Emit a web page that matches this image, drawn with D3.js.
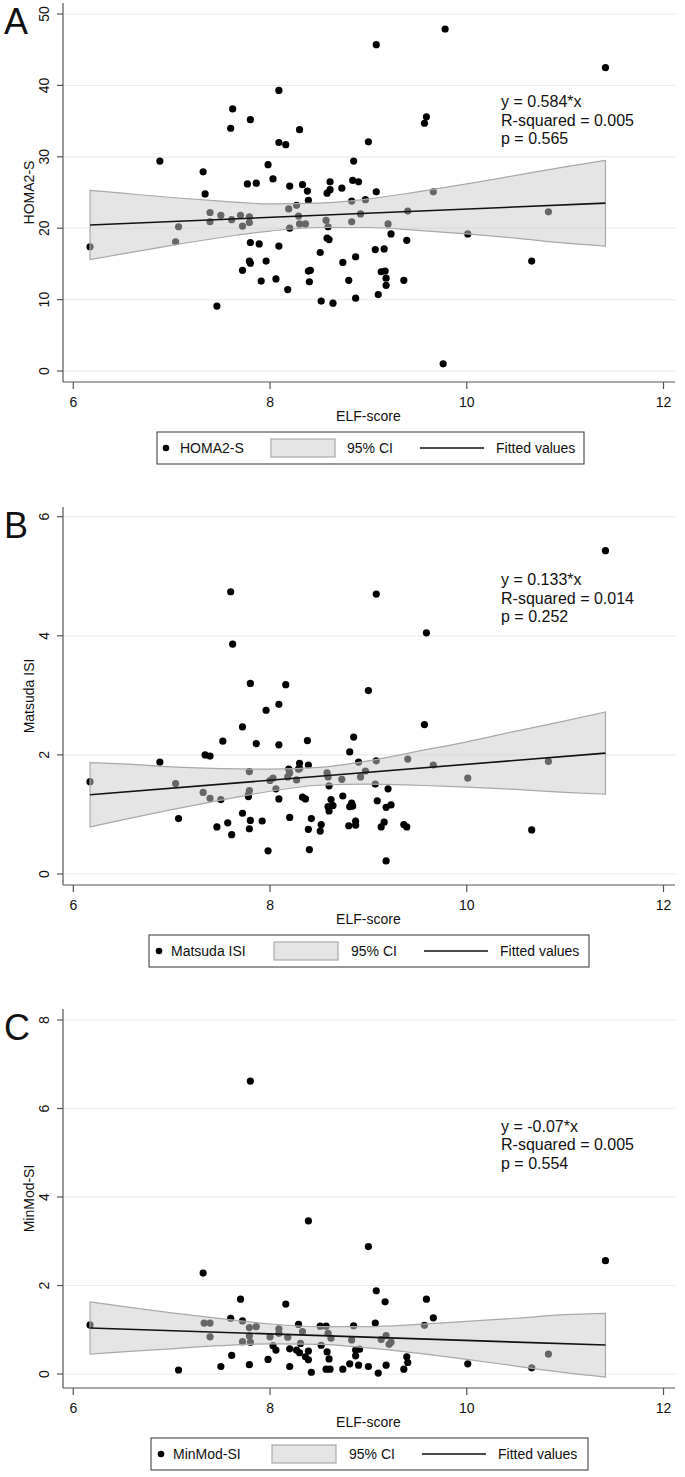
<!DOCTYPE html>
<html><head><meta charset="utf-8">
<script src="https://cdn.jsdelivr.net/npm/d3@7"></script>
<style>body{margin:0;background:#fff}svg{display:block}text{font-family:"Liberation Sans",Arial,sans-serif;fill:#111}</style>
</head><body><svg id="c" width="685" height="1477"></svg>
<script>
// ---------- data ----------
const xTicks = [6, 8, 10, 12];
const xTitle = "ELF-score";

const elfA = [8.09,7.62,7.80,7.60,8.30,8.09,8.16,6.88,7.98,7.32,8.03,7.77,7.86,8.20,8.33,8.38,8.61,8.61,8.58,8.73,7.34,8.39,9.08,9.78,11.41,9.59,9.57,9.00,8.85,8.84,8.90,9.08,9.66,8.83,6.17,7.07,7.04,7.39,7.39,7.50,7.61,7.70,7.72,7.79,7.79,7.80,7.89,8.09,7.79,7.80,7.72,7.96,7.91,8.06,8.18,7.46,8.19,8.27,8.29,8.30,8.36,8.20,8.57,8.59,8.58,8.60,8.51,8.74,8.39,8.41,8.40,8.52,8.64,8.80,8.83,8.97,8.92,9.40,9.20,9.23,9.39,10.01,10.83,10.66,8.87,9.07,9.16,9.13,9.17,9.18,9.18,9.36,8.87,9.10,9.76];
const homa2S = [39.3,36.7,35.2,34.0,33.8,32.0,31.7,29.4,28.9,27.9,26.9,26.2,26.3,25.9,26.1,25.2,26.5,25.4,24.9,25.6,24.8,23.9,45.7,47.9,42.5,35.6,34.7,32.1,29.4,26.7,26.5,25.1,25.1,23.8,17.4,20.2,18.1,22.2,20.9,21.8,21.2,21.8,20.3,21.6,20.8,18.0,17.8,17.5,15.4,15.1,14.1,15.4,12.6,12.9,11.4,9.1,22.7,23.2,21.7,20.6,20.6,20.0,21.1,20.2,18.6,18.4,16.6,15.2,14.0,14.1,12.5,9.8,9.5,12.7,20.9,24.0,22.0,22.4,20.6,19.2,18.3,19.2,22.3,15.4,16.0,17.0,17.1,13.9,14.0,13.0,12.0,12.7,10.2,10.7,1.0];

const elfB = [7.60,7.62,7.80,8.16,11.41,9.08,9.59,9.00,8.09,7.96,7.72,7.52,7.86,8.09,8.38,8.81,7.34,7.39,6.88,6.17,7.04,7.32,7.39,7.50,7.07,7.79,7.79,7.78,7.78,8.00,8.03,8.06,8.09,8.19,8.20,8.18,8.30,8.29,8.30,8.39,8.27,8.33,8.36,7.72,7.57,7.46,7.61,7.80,7.79,7.92,8.20,7.98,8.42,8.39,8.52,8.51,8.40,8.58,8.59,8.60,8.73,8.62,8.74,8.64,8.59,8.60,8.80,8.81,9.57,8.85,8.90,9.08,9.40,9.66,8.97,8.92,9.07,10.01,10.83,9.20,8.83,8.84,9.09,9.23,9.18,8.87,8.87,9.13,9.16,9.36,9.39,9.18,10.66];
const matsudaISI = [4.74,3.86,3.20,3.18,5.43,4.70,4.05,3.08,2.85,2.75,2.47,2.23,2.19,2.17,2.24,2.05,2.00,1.98,1.88,1.55,1.52,1.37,1.27,1.25,0.93,1.72,1.40,1.33,1.30,1.57,1.61,1.43,1.26,1.76,1.70,1.63,1.86,1.76,1.77,1.83,1.58,1.29,1.26,1.02,0.86,0.79,0.66,0.90,0.76,0.89,0.95,0.39,0.93,0.75,0.83,0.72,0.41,1.70,1.63,1.48,1.59,1.25,1.31,1.15,1.13,1.06,0.81,1.13,2.51,2.30,1.88,1.90,1.93,1.83,1.73,1.63,1.51,1.61,1.89,1.43,1.19,1.14,1.23,1.16,1.12,0.82,0.89,0.79,0.87,0.83,0.79,0.22,0.74];

const elfC = [7.80,8.39,9.00,11.41,7.32,7.70,8.16,6.17,7.60,7.72,7.33,7.39,7.39,7.79,7.86,7.79,7.72,7.80,8.00,8.09,8.09,8.18,8.29,8.33,8.31,8.51,8.57,8.59,8.62,8.52,7.61,7.07,7.50,7.79,7.98,8.03,8.06,8.20,8.27,8.30,8.20,8.39,8.36,8.39,8.42,8.58,8.60,8.57,8.61,8.74,8.81,9.08,9.17,9.59,9.66,9.57,8.85,9.07,8.83,9.18,9.13,9.21,9.23,8.87,8.91,8.87,8.90,9.00,9.10,9.18,9.36,9.39,9.40,10.01,10.66,10.83];
const minModSI = [6.62,3.46,2.88,2.56,2.28,1.69,1.58,1.11,1.26,1.20,1.15,1.15,0.84,1.05,1.07,0.86,0.73,0.72,0.84,1.02,0.92,0.83,1.12,0.96,0.69,1.08,1.08,0.92,0.81,0.65,0.42,0.09,0.17,0.21,0.33,0.64,0.54,0.57,0.54,0.48,0.17,0.52,0.39,0.32,0.04,0.50,0.34,0.11,0.11,0.11,0.23,1.88,1.63,1.69,1.27,1.10,1.09,1.15,0.77,0.87,0.78,0.67,0.72,0.54,0.56,0.41,0.20,0.17,0.02,0.20,0.11,0.39,0.26,0.23,0.14,0.45];

// 95% CI band and fitted values
const ciX = [6.17,6.5,7,7.5,8,8.5,9,9.5,10,10.5,11,11.41];
const ciLowA  = [15.6,16.4,17.6,18.7,19.6,20.1,20.1,19.7,19.2,18.6,17.9,17.5];
const ciHighA = [25.3,24.9,24.3,23.8,23.4,23.5,24.1,25.1,26.2,27.4,28.6,29.5];
const ciLowB  = [0.79,0.91,1.08,1.24,1.39,1.49,1.51,1.49,1.46,1.42,1.37,1.34];
const ciHighB = [1.87,1.85,1.80,1.77,1.76,1.79,1.90,2.06,2.22,2.40,2.57,2.72];
const ciLowC  = [0.45,0.50,0.57,0.64,0.68,0.67,0.59,0.47,0.33,0.18,0.03,-0.07];
const ciHighC = [1.63,1.53,1.38,1.25,1.13,1.07,1.07,1.12,1.19,1.26,1.34,1.37];
const fitX = [6.17, 11.41];
const fitA = [20.45, 23.51];
const fitB = [1.33, 2.03];
const fitC = [1.04, 0.654];

const yTicksA = [0,10,20,30,40,50];
const yTicksB = [0,2,4,6];
const yTicksC = [0,2,4,6,8];
const panelLetters = ["A","B","C"];
const yTitles = ["HOMA2-S","Matsuda ISI","MinMod-SI"];
const statLinesA = ["y = 0.584*x","R-squared = 0.005","p = 0.565"];
const statLinesB = ["y = 0.133*x","R-squared = 0.014","p = 0.252"];
const statLinesC = ["y = -0.07*x","R-squared = 0.005","p = 0.554"];
const legendLabels = ["95% CI","Fitted values"];

// ---------- drawing ----------
const svg = d3.select("#c");
const x = d3.scaleLinear().domain([6,12]).range([73.3,663.5]);
const axisLeft = 63, axisRight = 675;

const panels = [
  {top:3, bottom:382, y0:371, yMax:14, xs:elfA, ys:homa2S, lo:ciLowA, hi:ciHighA, fit:fitA, ticks:yTicksA, stats:statLinesA, statY:37.7,
   leg:{box:[157,584], dot:166, txt:180, sw:271, ci:347, ln:420, fv:496}},
  {top:507, bottom:885, y0:874, yMax:516.7, xs:elfB, ys:matsudaISI, lo:ciLowB, hi:ciHighB, fit:fitB, ticks:yTicksB, stats:statLinesB, statY:4.94,
   leg:{box:[149,589], dot:159, txt:171, sw:274, ci:351, ln:424, fv:500}},
  {top:1009, bottom:1388, y0:1374, yMax:1020, xs:elfC, ys:minModSI, lo:ciLowC, hi:ciHighC, fit:fitC, ticks:yTicksC, stats:statLinesC, statY:5.6,
   leg:{box:[151,588], dot:161, txt:173, sw:272, ci:349, ln:422, fv:498}}
];

panels.forEach((p, i) => {
  const tmax = p.ticks[p.ticks.length-1];
  const y = d3.scaleLinear().domain([0, tmax]).range([p.y0, p.yMax]);
  const g = svg.append("g");

  // gridlines
  g.selectAll(".grid").data(p.ticks).join("line")
    .attr("x1", axisLeft).attr("x2", axisRight)
    .attr("y1", d => y(d)).attr("y2", d => y(d))
    .attr("stroke", "#e6eef1").attr("stroke-width", 1.2);

  // points
  g.selectAll(".pt").data(p.xs.map((v,k)=>[v,p.ys[k]])).join("circle")
    .attr("cx", d => x(d[0])).attr("cy", d => y(d[1])).attr("r", 3.6)
    .attr("fill", "#000");

  // CI band (semi-transparent, greys the points underneath)
  const band = ciX.map((v,k)=>({x:v, lo:p.lo[k], hi:p.hi[k]}));
  const area = d3.area().x(d=>x(d.x)).y0(d=>y(d.lo)).y1(d=>y(d.hi)).curve(d3.curveMonotoneX);
  g.append("path").attr("d", area(band)).attr("fill", "rgb(203,203,203)").attr("fill-opacity", 0.5)
    .attr("stroke", "#a9a9a9").attr("stroke-width", 1.2);

  // fitted line
  const line = d3.line().x(d=>x(d[0])).y(d=>y(d[1]));
  g.append("path").attr("d", line(fitX.map((v,k)=>[v,p.fit[k]])))
    .attr("stroke", "#111").attr("stroke-width", 1.6).attr("fill", "none");

  // axes
  g.append("line").attr("x1", axisLeft).attr("x2", axisLeft).attr("y1", p.top).attr("y2", p.bottom)
    .attr("stroke", "#555").attr("stroke-width", 1.2);
  g.append("line").attr("x1", axisLeft).attr("x2", axisRight).attr("y1", p.bottom).attr("y2", p.bottom)
    .attr("stroke", "#555").attr("stroke-width", 1.2);

  // y ticks
  g.selectAll(".yt").data(p.ticks).join("line")
    .attr("x1", axisLeft-6).attr("x2", axisLeft).attr("y1", d=>y(d)).attr("y2", d=>y(d))
    .attr("stroke", "#555").attr("stroke-width", 1.2);
  g.selectAll(".yl").data(p.ticks).join("text")
    .attr("transform", d => `translate(44,${y(d)}) rotate(-90)`)
    .attr("text-anchor", "middle").attr("dy", "0.35em").attr("font-size", 14).text(d => d);

  // x ticks
  g.selectAll(".xt").data(xTicks).join("line")
    .attr("x1", d=>x(d)).attr("x2", d=>x(d)).attr("y1", p.bottom).attr("y2", p.bottom+7)
    .attr("stroke", "#555").attr("stroke-width", 1.2);
  g.selectAll(".xl").data(xTicks).join("text")
    .attr("x", d=>x(d)).attr("y", p.bottom+20).attr("dy","0.35em")
    .attr("text-anchor", "middle").attr("font-size", 14).text(d => d);
  g.append("text").attr("x", x(9)).attr("y", p.bottom+34).attr("dy","0.35em")
    .attr("text-anchor","middle").attr("font-size",14).text(xTitle);

  // y title
  g.append("text").attr("transform", `translate(29,${(p.top+p.bottom)/2}) rotate(-90)`)
    .attr("text-anchor","middle").attr("dy","0.35em").attr("font-size",14).text(yTitles[i]);

  // panel letter
  g.append("text").attr("x", 4).attr("y", p.top+31).attr("font-size", 36).text(panelLetters[i]);

  // stats annotation
  g.selectAll(".st").data(p.stats).join("text")
    .attr("x", 501).attr("y", (d,k)=> y(p.statY) + k*18.5).attr("dy","0.35em")
    .attr("font-size", 16).text(d=>d);

  // legend
  const ly = p.bottom + 66, L = p.leg;
  g.append("rect").attr("x", L.box[0]).attr("y", ly-16).attr("width", L.box[1]-L.box[0]).attr("height", 32)
    .attr("fill","#fff").attr("stroke","#333").attr("stroke-width",1);
  g.append("circle").attr("cx", L.dot).attr("cy", ly).attr("r", 3.3).attr("fill","#000");
  g.append("text").attr("x", L.txt).attr("y", ly).attr("dy","0.35em").attr("font-size",14).text(yTitles[i]);
  g.append("rect").attr("x", L.sw).attr("y", ly-9).attr("width", 64).attr("height", 18)
    .attr("fill","#e5e5e5").attr("stroke","#a9a9a9").attr("stroke-width",1.2);
  g.append("text").attr("x", L.ci).attr("y", ly).attr("dy","0.35em").attr("font-size",14).text(legendLabels[0]);
  g.append("line").attr("x1", L.ln).attr("x2", L.ln+64).attr("y1", ly).attr("y2", ly)
    .attr("stroke","#111").attr("stroke-width",1.6);
  g.append("text").attr("x", L.fv).attr("y", ly).attr("dy","0.35em").attr("font-size",14).text(legendLabels[1]);
});
</script></body></html>
